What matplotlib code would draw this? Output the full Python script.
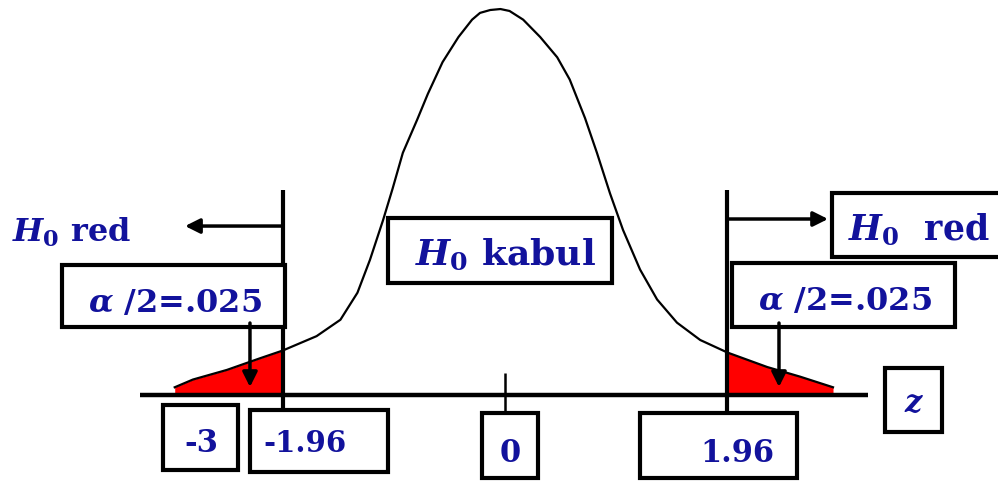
import matplotlib.pyplot as plt
from matplotlib.patches import Rectangle

# curve (z, height)
curve_z = [-2.91, -2.75, -2.45, -2.16, -1.96, -1.74, -1.66, -1.45, -1.30, -1.19,
           -1.075, -0.99, -0.90, -0.775, -0.68, -0.55, -0.41, -0.29, -0.22, -0.13,
           -0.04, 0.04, 0.16, 0.31, 0.46, 0.57, 0.705, 0.81, 0.925, 1.04,
           1.19, 1.34, 1.515, 1.72, 1.96, 2.31, 2.60, 2.89]
curve_y = [0.008, 0.016, 0.026, 0.038, 0.046, 0.057, 0.061, 0.078, 0.106, 0.140,
           0.181, 0.214, 0.251, 0.285, 0.312, 0.345, 0.371, 0.389, 0.396, 0.399,
           0.400, 0.398, 0.389, 0.371, 0.350, 0.327, 0.287, 0.251, 0.209, 0.171,
           0.130, 0.099, 0.075, 0.057, 0.044, 0.029, 0.019, 0.008]
crit = [-1.96, 1.96]
tick_labels = ['-3', '-1.96', '0', '1.96']
alpha_label = r'$\alpha$ /2=.025'
reject_label = r'$H_0$ red'
accept_label = r'$H_0$ kabul'

plt.rcParams['mathtext.fontset'] = 'custom'
plt.rcParams['mathtext.rm'] = 'DejaVu Serif:bold'
plt.rcParams['mathtext.bf'] = 'DejaVu Serif:bold'
plt.rcParams['mathtext.it'] = 'DejaVu Serif:italic:bold'
plt.rcParams['font.family'] = 'DejaVu Serif'

W, H = 998, 483
navy = '#12129c'

fig = plt.figure(figsize=(W / 100, H / 100), dpi=100)
ax = fig.add_axes([0, 0, 1, 1])
ax.set_xlim(-505 / 113.5, (W - 505) / 113.5)
ax.set_ylim(-88 / 964.9, 395 / 964.9)
ax.axis('off')


def px(x, y):
    return x / W, 1 - y / H


def box(x0, y0, x1, y1):
    ax.add_patch(Rectangle(px(x0, y1), (x1 - x0) / W, (y1 - y0) / H,
                           transform=ax.transAxes, fc='white', ec='black',
                           lw=3, zorder=4, clip_on=False))


def label(x, y, s, size, ha='center'):
    ax.text(*px(x, y), s, transform=ax.transAxes, ha=ha, va='baseline',
            fontsize=size, fontweight='bold', color=navy, zorder=5)


# red tails
left = [(z, y) for z, y in zip(curve_z, curve_y) if z <= crit[0]]
right = [(z, y) for z, y in zip(curve_z, curve_y) if z >= crit[1]]
for part in (left, right):
    zs, ys = zip(*part)
    ax.fill_between(zs, 0, ys, color='#ff0000', lw=0, zorder=1)

ax.plot(curve_z, curve_y, color='black', lw=1.6, zorder=2, solid_joinstyle='round')
ax.hlines(0, -3.216, 3.198, color='black', lw=3.2, zorder=3)
ax.vlines(crit, -0.0207, 0.2125, color='black', lw=3, zorder=3)
ax.vlines(0, -0.018, 0.023, color='black', lw=1.8, zorder=3)

arrow = dict(arrowstyle='-|>', color='black', lw=2.5, mutation_scale=22,
             shrinkA=0, shrinkB=0)
ax.annotate('', xy=(-2.819, 0.1751), xytext=(crit[0], 0.1751), arrowprops=arrow, zorder=3)
ax.annotate('', xy=(2.846, 0.1824), xytext=(crit[1], 0.1824), arrowprops=arrow, zorder=3)
ax.annotate('', xy=(-2.247, 0.0083), xytext=(-2.247, 0.0746), arrowprops=arrow, zorder=6)
ax.annotate('', xy=(2.414, 0.0083), xytext=(2.414, 0.0746), arrowprops=arrow, zorder=6)

# labels
label(12, 242, reject_label, 23, ha='left')
box(832, 193, 1003, 257)
label(848, 240, reject_label.replace(' ', r'  '), 25, ha='left')

box(388, 218, 612, 283)
label(505, 265, accept_label, 26)

box(62, 265, 285, 327)
label(175, 312, alpha_label, 23)
box(732, 263, 955, 327)
label(845, 310, alpha_label, 23)

box(163, 405, 238, 470)
label(201, 452, tick_labels[0], 22)
box(250, 410, 388, 472)
label(263, 452, tick_labels[1], 21, ha='left')
box(482, 413, 538, 478)
label(510, 462, tick_labels[2], 22)
box(640, 413, 797, 478)
label(737, 462, tick_labels[3], 22)

box(885, 368, 942, 432)
label(914, 412, r'$z$', 22)

fig.savefig('out.png', dpi=100)
